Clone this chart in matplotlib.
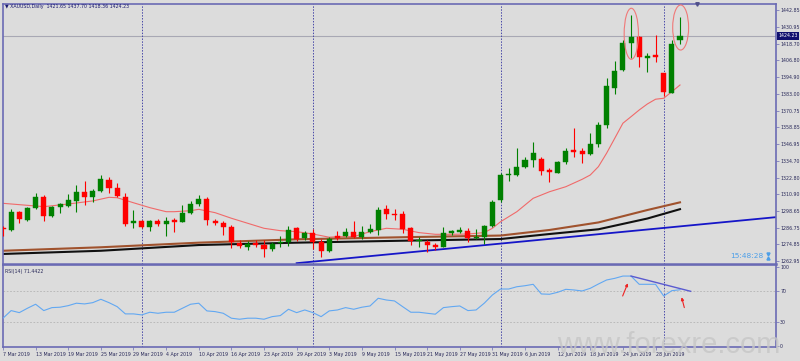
import matplotlib
matplotlib.use("Agg")
import matplotlib.pyplot as plt
from matplotlib.patches import Ellipse
import matplotlib.transforms as mtransforms

# daily XAUUSD bars, 7 Mar 2019 .. 3 Jul 2019 (index = bar number)
opens = [1286.3, 1285.2, 1297.9, 1292.4, 1300.7, 1308.6, 1295.4, 1301.7, 1302.6, 1305.8,
         1312.2, 1308.6, 1313.1, 1321.0, 1315.3, 1308.8, 1290.0, 1291.8, 1287.1, 1291.8,
         1289.5, 1292.4, 1291.1, 1297.2, 1303.6, 1307.6, 1291.6, 1290.0, 1287.5, 1276.1,
         1273.2, 1276.1, 1274.4, 1271.8, 1275.7, 1276.6, 1286.8, 1279.2, 1283.3, 1276.8,
         1270.1, 1280.9, 1280.9, 1284.0, 1280.4, 1283.5, 1285.2, 1300.0, 1296.7, 1296.7,
         1286.4, 1277.1, 1276.8, 1274.4, 1273.2, 1283.3, 1283.8, 1284.7, 1279.2, 1280.0,
         1288.0, 1306.7, 1324.6, 1324.6, 1330.6, 1335.3, 1336.1, 1328.2, 1326.3, 1333.7,
         1342.5, 1342.0, 1339.7, 1346.6, 1360.1, 1387.3, 1399.9, 1419.4, 1423.7, 1408.7,
         1410.6, 1397.5, 1383.6, 1421.65]
highs = [1288.0, 1300.0, 1299.0, 1301.9, 1311.5, 1310.3, 1302.4, 1304.7, 1311.0, 1317.2,
         1320.3, 1314.8, 1324.8, 1323.4, 1319.1, 1311.9, 1299.5, 1292.4, 1292.4, 1292.9,
         1294.7, 1293.6, 1303.1, 1305.8, 1310.3, 1308.6, 1292.9, 1291.6, 1288.8, 1278.0,
         1277.5, 1278.0, 1278.0, 1276.8, 1280.9, 1288.0, 1287.5, 1284.7, 1285.7, 1278.5,
         1280.4, 1284.7, 1286.4, 1291.6, 1288.0, 1289.5, 1301.5, 1303.1, 1300.0, 1299.0,
         1287.1, 1280.4, 1278.0, 1276.1, 1287.1, 1285.2, 1287.1, 1286.4, 1285.7, 1288.8,
         1306.7, 1325.8, 1329.6, 1344.3, 1337.7, 1348.5, 1337.7, 1329.4, 1334.6, 1343.7,
         1358.1, 1343.7, 1354.5, 1362.8, 1393.9, 1406.3, 1421.4, 1439.3, 1424.2, 1411.8,
         1424.9, 1397.7, 1421.4, 1437.70]
lows = [1280.9, 1284.5, 1290.0, 1291.8, 1300.0, 1291.8, 1294.3, 1297.6, 1301.9, 1298.3,
        1303.1, 1305.0, 1312.4, 1311.9, 1308.6, 1288.3, 1286.4, 1286.4, 1284.7, 1288.0,
        1280.7, 1284.0, 1290.7, 1296.4, 1302.6, 1288.8, 1288.8, 1281.6, 1272.1, 1272.1,
        1270.9, 1272.8, 1266.0, 1270.4, 1273.2, 1273.7, 1277.5, 1278.0, 1271.4, 1266.0,
        1269.6, 1278.0, 1280.0, 1279.2, 1278.5, 1282.8, 1281.6, 1293.3, 1292.4, 1283.3,
        1274.4, 1273.2, 1269.6, 1270.9, 1272.8, 1281.6, 1282.8, 1276.8, 1278.5, 1275.1,
        1287.5, 1305.5, 1320.5, 1323.9, 1329.4, 1330.1, 1324.6, 1319.8, 1325.8, 1332.3,
        1337.7, 1333.0, 1338.9, 1344.9, 1358.1, 1382.4, 1399.1, 1408.2, 1402.2, 1398.6,
        1405.8, 1381.2, 1383.2, 1418.36]
closes = [1285.6, 1297.9, 1292.9, 1300.7, 1308.6, 1295.4, 1301.5, 1303.8, 1306.5, 1312.4,
          1309.0, 1312.9, 1321.7, 1315.3, 1309.6, 1289.7, 1291.6, 1287.1, 1291.8, 1289.5,
          1291.8, 1291.1, 1297.6, 1303.8, 1307.6, 1292.4, 1290.0, 1287.5, 1276.6, 1273.7,
          1275.1, 1274.2, 1271.8, 1275.1, 1276.8, 1285.2, 1278.5, 1283.3, 1276.8, 1270.1,
          1278.5, 1279.7, 1284.0, 1280.4, 1283.8, 1285.7, 1299.5, 1296.4, 1296.2, 1285.9,
          1277.5, 1278.0, 1274.2, 1272.8, 1282.8, 1284.5, 1285.2, 1279.2, 1280.0, 1288.0,
          1305.3, 1324.6, 1325.3, 1330.0, 1335.3, 1340.2, 1327.7, 1326.8, 1333.7, 1341.8,
          1341.1, 1339.4, 1346.6, 1360.4, 1388.4, 1399.4, 1419.4, 1423.7, 1409.0, 1409.9,
          1409.4, 1384.3, 1418.3, 1424.23]

rsi = [35.2, 44.9, 42.3, 47.9, 53.0, 44.9, 48.7, 49.2, 51.2, 54.3,
       53.4, 55.0, 59.3, 55.0, 49.9, 40.7, 40.7, 39.4, 42.8, 41.5,
       42.8, 42.8, 47.9, 53.0, 54.3, 44.5, 43.6, 41.5, 35.2, 33.9,
       35.2, 35.2, 33.9, 37.2, 38.5, 46.6, 42.3, 45.7, 42.3, 37.2,
       44.5, 45.7, 48.7, 46.6, 49.2, 50.8, 60.6, 58.4, 57.2, 49.9,
       42.8, 42.8, 41.5, 40.3, 48.7, 49.9, 50.8, 44.9, 45.7, 54.3,
       64.8, 72.4, 72.4, 75.3, 76.6, 78.4, 66.1, 65.7, 68.2, 72.0,
       71.2, 69.9, 73.3, 78.8, 83.9, 86.0, 88.9, 88.9, 78.4, 78.4,
       78.4, 63.5, 70.3, 71.44]

# moving averages at some bars
ma_fast_idx = [0, 5, 8, 11, 13, 14, 16, 18, 20, 21, 23, 24, 26, 28, 30, 32, 34, 36, 38, 40,
               41, 43, 45, 47, 49, 51, 53, 55, 57, 59, 60, 61, 62, 63, 65, 67, 69, 71, 72, 73,
               74, 75, 76, 77, 78, 79, 80, 81, 82, 83]
ma_fast = [1304.3, 1301.9, 1303.8, 1306.0, 1308.6, 1308.3, 1304.7, 1301.2, 1298.3, 1298.3,
           1299.0, 1300.0, 1297.6, 1293.6, 1290.0, 1286.4, 1284.7, 1284.0, 1282.3, 1280.0,
           1280.4, 1280.4, 1284.0, 1286.4, 1285.7, 1283.3, 1282.1, 1282.1, 1282.3, 1283.3,
           1286.4, 1291.1, 1294.7, 1298.3, 1307.9, 1312.6, 1316.2, 1321.5, 1324.6, 1330.6,
           1340.2, 1350.9, 1361.7, 1366.4, 1371.2, 1375.5, 1378.9, 1379.6, 1384.3, 1389.1]
ma_slow_idx = [0, 12, 24, 36, 49, 61, 67, 73, 79, 83]
ma_brown = [1270.3, 1272.8, 1276.1, 1278.5, 1280.0, 1281.2, 1285.2, 1290.6, 1299.5, 1305.0]
ma_black = [1268.0, 1270.3, 1274.4, 1276.1, 1277.5, 1278.7, 1282.3, 1285.7, 1293.4, 1300.1]

trend_x = [36.0, 94.8]
trend_y = [1261.4, 1294.4]
rsi_trend_x = [77.0, 84.3]
rsi_trend_y = [88.9, 69.5]

separators = [17, 38, 61, 81]
date_ticks = list(range(0, 81, 4))
date_labels = ["7 Mar 2019", "13 Mar 2019", "19 Mar 2019", "25 Mar 2019", "29 Mar 2019",
               "4 Apr 2019", "10 Apr 2019", "16 Apr 2019", "23 Apr 2019", "29 Apr 2019",
               "3 May 2019", "9 May 2019", "15 May 2019", "21 May 2019", "27 May 2019",
               "31 May 2019", "6 Jun 2019", "12 Jun 2019", "18 Jun 2019", "24 Jun 2019",
               "28 Jun 2019"]
price_ticks = [1442.85, 1430.95, 1418.70, 1406.80, 1394.90, 1383.00, 1370.75, 1358.85,
               1346.95, 1334.70, 1322.80, 1310.90, 1298.65, 1286.75, 1274.85, 1262.95]
rsi_ticks = [0, 30, 70, 100]

bg = "#dcdcdc"
frame = "#6a6ab4"
txt = "#2a2a5a"
fs = 3.4

fig = plt.figure(figsize=(8, 3.61), dpi=100, facecolor=bg)
W, H = 800.0, 361.0
ax = fig.add_axes([2.5 / W, 1 - 264 / H, 773.5 / W, 260 / H], facecolor=bg)
rax = fig.add_axes([2.5 / W, 1 - 347 / H, 773.5 / W, 82 / H], facecolor=bg)

# candles
for i in range(len(opens)):
    o, h, l, c = opens[i], highs[i], lows[i], closes[i]
    col = "#008000" if c >= o else "#ff0000"
    ax.vlines(i, l, h, color=col, lw=0.8, zorder=3)
    ax.bar(i, max(abs(c - o), 0.7), bottom=min(o, c), width=0.62, color=col,
           edgecolor=col, lw=0.3, zorder=4)

ax.plot(ma_fast_idx, ma_fast, color="#f06a6a", lw=0.8, zorder=2)
ax.plot(ma_slow_idx, ma_brown, color="#a0522d", lw=1.5, zorder=2)
ax.plot(ma_slow_idx, ma_black, color="#101010", lw=1.5, zorder=2)
ax.plot(trend_x, trend_y, color="#1515c8", lw=1.3, zorder=2)
ax.axhline(closes[-1], color="#a8a8b4", lw=0.8, zorder=1)

ax.add_patch(Ellipse((77.03, 1425.8), 1.75, 36.6, fill=False, ec="#f07878", lw=0.8, zorder=5))
ax.add_patch(Ellipse((83.08, 1430.3), 1.95, 32.3, fill=False, ec="#f07878", lw=0.8, zorder=5))

for s in separators:
    ax.axvline(s, color="#4848a8", lw=0.7, ls=(0, (1.5, 1.5)), zorder=1)
    rax.axvline(s, color="#4848a8", lw=0.7, ls=(0, (1.5, 1.5)), zorder=1)

ax.set_xlim(-0.06, 94.77)
ax.set_ylim(1260.81, 1447.15)
ax.set_xticks([])
ax.yaxis.tick_right()
ax.set_yticks(price_ticks)
ax.set_yticklabels(["%.2f" % p for p in price_ticks])
ax.tick_params(axis="y", labelsize=fs, length=2, width=0.5, colors=frame,
               labelcolor=txt, pad=1)

trans = mtransforms.blended_transform_factory(ax.transAxes, ax.transData)
ax.text(1.003, closes[-1], "%.2f" % closes[-1], transform=trans, fontsize=fs,
        color="white", va="center", ha="left", zorder=10, clip_on=False,
        bbox=dict(boxstyle="square,pad=0.25", fc="#10106e", ec="none"))

ax.text(0.9405, 0.031, "15:48:28", transform=ax.transAxes, fontsize=5.3,
        color="#4d9fe8", va="center", ha="left")
ax.plot([0.99], [0.039], marker="v", ms=2.2, color="#4d9fe8", transform=ax.transAxes)
ax.plot([0.99], [0.023], marker="^", ms=2.2, color="#4d9fe8", transform=ax.transAxes)
ax.plot([0.898], [1.0], marker="v", ms=2.5, color="#50508a", transform=ax.transAxes,
        clip_on=False, zorder=10)

# RSI panel
rax.plot(range(len(rsi)), rsi, color="#62a8f2", lw=0.8, zorder=3)
rax.plot(rsi_trend_x, rsi_trend_y, color="#5a5ad0", lw=1.0, zorder=4)
for lvl in (30, 70):
    rax.axhline(lvl, color="#b4b4b4", lw=0.6, ls=(0, (2, 2)), zorder=1)
rax.annotate("", xy=(76.6, 79.7), xytext=(75.97, 63.5),
             arrowprops=dict(arrowstyle="-|>", color="#ee2222", lw=0.8,
                             mutation_scale=4, shrinkA=0, shrinkB=0))
rax.annotate("", xy=(83.2, 61.9), xytext=(83.53, 48.7),
             arrowprops=dict(arrowstyle="-|>", color="#ee2222", lw=0.8,
                             mutation_scale=4, shrinkA=0, shrinkB=0))
rax.set_xlim(-0.06, 94.77)
rax.set_ylim(-1.5, 103)
rax.yaxis.tick_right()
rax.set_yticks(rsi_ticks)
rax.set_yticklabels([str(v) for v in rsi_ticks])
rax.tick_params(axis="y", labelsize=fs, length=2, width=0.5, colors=frame,
                labelcolor=txt, pad=1)
rax.set_xticks(date_ticks)
rax.set_xticklabels(date_labels, ha="left")
rax.tick_params(axis="x", labelsize=fs, length=2, width=0.5, colors=frame,
                labelcolor=txt, pad=1.5)
rax.text(0.003, 0.95, "RSI(14) 71.4422", transform=rax.transAxes, fontsize=fs,
         color=txt, va="top", ha="left")

for a in (ax, rax):
    for side, sp in a.spines.items():
        sp.set_color(frame)
        sp.set_linewidth(1.2)
ax.spines["bottom"].set_linewidth(1.8)

fig.text(5 / W, 1 - 6.5 / H, "\u25bc XAUUSD,Daily  1421.65 1437.70 1418.36 1424.23",
         fontsize=fs, color="#1a1a6e", va="center", ha="left")

# watermark sits over the date labels, as in the original screenshot
fig.text(557 / W, 1 - 353 / H, "www.forexre.com", fontsize=21, color="#c6c6c6",
         alpha=0.8, family="Liberation Sans", va="baseline", ha="left", zorder=20)

fig.savefig("out.png", dpi=100, facecolor=bg)
